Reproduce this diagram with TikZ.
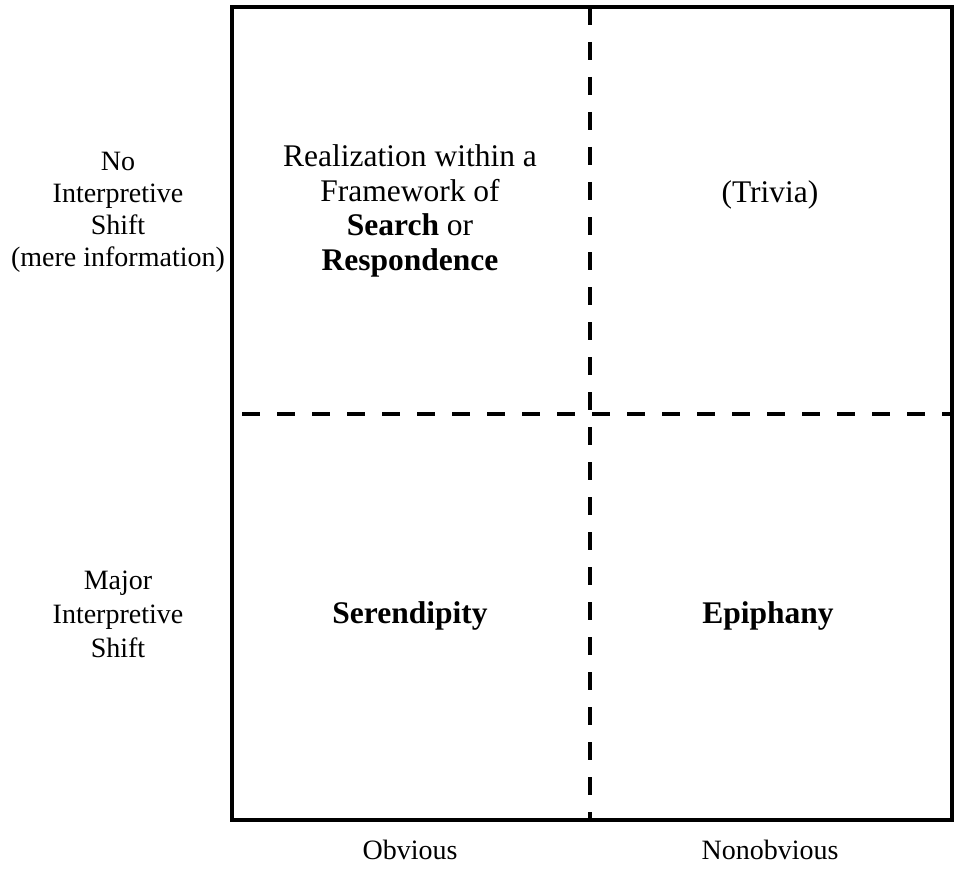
\documentclass[tikz,border=0pt]{standalone}
\usepackage{fontspec}
\setmainfont{Liberation Serif}
\begin{document}
\begin{tikzpicture}[x=1pt,y=-1pt,
  frame/.style={line width=4pt},
  divider/.style={line width=4.5pt,dash pattern=on 18pt off 17pt},
  quad/.style={align=center,font=\fontsize{31.5}{34.5}\selectfont,inner sep=0pt},
  axislabel/.style={align=center,font=\fontsize{28}{32}\selectfont,inner sep=0pt}]
  \useasboundingbox (0,0) rectangle (955,869);
  % outer frame
  \node[draw,frame,minimum width=720pt,minimum height=813pt,inner sep=0pt] (box) at (592,413.5) {};
  % dividing lines, anchored on the frame
  \coordinate (vt) at (590,7);
  \coordinate (vb) at (590,820);
  \coordinate (hl) at (232,414);
  \coordinate (hr) at (952,414);
  \draw[divider] (vt) -- (vb);
  \draw[divider,dash phase=-10pt] (hl) -- (hr);
  % quadrant contents
  \node[quad] (search) at (410,211) {Realization within a\\Framework of\\\textbf{Search} or\\\textbf{Respondence}};
  \node[quad] (trivia) at (770,195) {(Trivia)};
  \node[quad] (seren) at (410,616) {\textbf{Serendipity}};
  \node[quad] (epiph) at (768,616) {\textbf{Epiphany}};
  % row labels
  \node[axislabel] (noshift) at (118,212) {No\\Interpretive\\Shift\\(mere information)};
  \node[axislabel,font=\fontsize{28}{34}\selectfont] (major) at (118,614) {Major\\Interpretive\\Shift};
  % column labels
  \node[axislabel] (obv) at (410,850) {Obvious};
  \node[axislabel] (nonobv) at (770,850) {Nonobvious};
\end{tikzpicture}
\end{document}
